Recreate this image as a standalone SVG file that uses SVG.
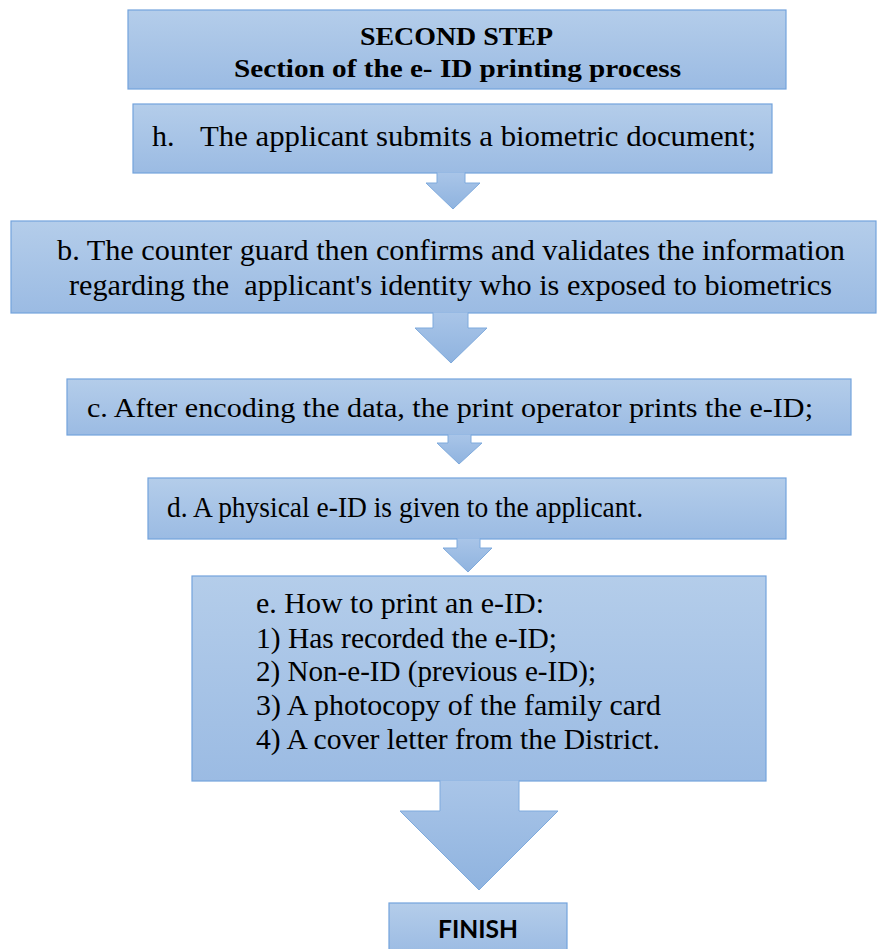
<svg xmlns="http://www.w3.org/2000/svg" width="877" height="949" viewBox="0 0 877 949">
<defs>
<linearGradient id="boxg" x1="0" y1="0" x2="0" y2="1">
<stop offset="0" stop-color="#b4cdea"/>
<stop offset="1" stop-color="#9bbbe3"/>
</linearGradient>
<linearGradient id="arrg" x1="0" y1="0" x2="0" y2="1">
<stop offset="0" stop-color="#a9c5e8"/>
<stop offset="1" stop-color="#8fb3df"/>
</linearGradient>
<style>
.box{fill:url(#boxg);stroke:#73a3dc;stroke-width:1.2}
.arr{fill:url(#arrg);stroke:#7eaadd;stroke-width:1}
.t{font-family:"Liberation Serif","Times New Roman",serif;fill:#000}
.tb{font-family:"Liberation Serif","Times New Roman",serif;font-weight:bold;fill:#000}
.fin{font-family:Lato,"Open Sans","Liberation Sans",sans-serif;font-weight:bold;fill:#000}
</style>
</defs>
<rect width="877" height="949" fill="#ffffff"/>

<g id="title">
<rect class="box" x="128" y="10" width="658" height="79"/>
<text class="tb" x="360" y="45" font-size="26" textLength="193" lengthAdjust="spacingAndGlyphs">SECOND STEP</text>
<text class="tb" x="234" y="77" font-size="26" textLength="447" lengthAdjust="spacingAndGlyphs">Section of the e- ID printing process</text>
</g>

<g id="step-h">
<rect class="box" x="133" y="104" width="639" height="69"/>
<text class="t" x="152" y="146" font-size="30">h.</text>
<text class="t" x="200" y="146" font-size="30" textLength="556" lengthAdjust="spacingAndGlyphs">The applicant submits a biometric document;</text>
</g>

<g id="step-b">
<rect class="box" x="11" y="221" width="865" height="92"/>
<text class="t" x="57" y="260" font-size="29" textLength="788" lengthAdjust="spacingAndGlyphs">b. The counter guard then confirms and validates the information</text>
<text class="t" x="69" y="295" font-size="29" textLength="763" lengthAdjust="spacingAndGlyphs" xml:space="preserve">regarding the  applicant's identity who is exposed to biometrics</text>
</g>

<g id="step-c">
<rect class="box" x="67" y="379" width="784" height="56"/>
<text class="t" x="87" y="417" font-size="28" textLength="726" lengthAdjust="spacingAndGlyphs">c. After encoding the data, the print operator prints the e-ID;</text>
</g>

<g id="step-d">
<rect class="box" x="148" y="478" width="638" height="61"/>
<text class="t" x="167" y="517" font-size="29" textLength="476" lengthAdjust="spacingAndGlyphs">d. A physical e-ID is given to the applicant.</text>
</g>

<g id="step-e">
<rect class="box" x="192" y="576" width="574" height="205"/>
<text class="t" x="256" y="613" font-size="30" textLength="288" lengthAdjust="spacingAndGlyphs">e. How to print an e-ID:</text>
<text class="t" x="256" y="648" font-size="30" textLength="301" lengthAdjust="spacingAndGlyphs">1) Has recorded the e-ID;</text>
<text class="t" x="256" y="681" font-size="30" textLength="340" lengthAdjust="spacingAndGlyphs">2) Non-e-ID (previous e-ID);</text>
<text class="t" x="256" y="715" font-size="30" textLength="405" lengthAdjust="spacingAndGlyphs">3) A photocopy of the family card</text>
<text class="t" x="256" y="749" font-size="30" textLength="404" lengthAdjust="spacingAndGlyphs">4) A cover letter from the District.</text>
</g>

<g id="finish">
<rect class="box" x="389" y="903" width="178" height="50"/>
<text class="fin" x="438" y="938" font-size="25" textLength="80" lengthAdjust="spacingAndGlyphs">FINISH</text>
</g>

<g id="connectors">
<path class="arr" d="M437,172.5 L437,183 L426,183 L453,209 L480,183 L465,183 L465,172.5"/>
<path class="arr" d="M433,312.5 L433,328 L415,328 L451,363 L487,328 L468,328 L468,312.5"/>
<path class="arr" d="M448,434.5 L448,443 L437,443 L459,464 L482,443 L471,443 L471,434.5"/>
<path class="arr" d="M457,538.5 L457,548 L443,548 L468,572 L492,548 L480,548 L480,538.5"/>
<path class="arr" d="M440,780.5 L440,811 L400,811 L479,890 L558,811 L519,811 L519,780.5"/>
</g>
</svg>
